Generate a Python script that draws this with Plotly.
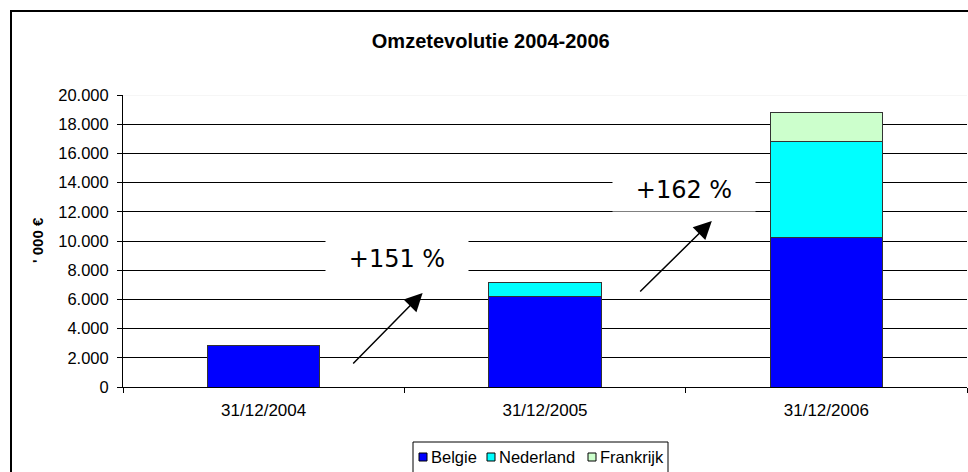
import plotly.graph_objects as go

categories = ["31/12/2004", "31/12/2005", "31/12/2006"]
belgie = [2870, 6190, 10250]
nederland = [0, 1000, 6560]
frankrijk = [0, 0, 1960]
growth_labels = ["+151 %", "+162 %"]

series = [
    ("Belgie", belgie, "#0000FF"),
    ("Nederland", nederland, "#00FFFF"),
    ("Frankrijk", frankrijk, "#CCFFCC"),
]

# plot-area geometry (pixels) used to place decorations in paper coords
L, R, T, B = 123, 967, 95, 387
def px(xp):
    return (xp - L) / (R - L)
def py(yp):
    return (B - yp) / (B - T)

fig = go.Figure()
for name, vals, col in series:
    fig.add_trace(go.Bar(
        x=categories, y=vals, name=name, showlegend=False,
        marker=dict(color=col, line=dict(color="#333333", width=1)),
    ))

font_fam = "Liberation Sans, Arial, sans-serif"

fig.update_layout(
    barmode="stack",
    bargap=0.6,
    width=968, height=472,
    margin=dict(l=L, r=968 - R, t=T, b=472 - B),
    paper_bgcolor="white",
    plot_bgcolor="white",
    font=dict(family=font_fam, size=15, color="black"),
    title=dict(text="<b>Omzetevolutie 2004-2006</b>", x=0.507, xref="container",
               y=1 - 41 / 472, yref="container", xanchor="center", yanchor="middle",
               font=dict(family=font_fam, size=20, color="black")),
    xaxis=dict(
        type="category", range=[-0.5, 2.5],
        showline=True, linecolor="black", linewidth=1,
        ticks="outside", tickson="boundaries", ticklen=5, tickcolor="black",
        showgrid=False, tickfont=dict(size=17), ticklabelstandoff=8,
    ),
    yaxis=dict(
        range=[0, 20000], tickvals=list(range(0, 20001, 2000)),
        ticktext=[f"{v:,}".replace(",", ".") for v in range(0, 20001, 2000)],
        showline=True, linecolor="black", linewidth=1,
        ticks="outside", ticklen=5, tickcolor="black",
        showgrid=True, gridcolor="black", gridwidth=1,
        zeroline=False, tickfont=dict(size=16.5), ticklabelstandoff=5,
    ),
    showlegend=False,
)

# faint top border of plot area
fig.add_shape(type="line", xref="paper", yref="y", x0=0, x1=1, y0=20000, y1=20000,
              line=dict(color="#eeeeee", width=1), layer="above")
# outer chart frame
fig.add_shape(type="rect", xref="paper", yref="paper",
              x0=px(11), x1=px(1100), y0=py(600), y1=py(11),
              line=dict(color="black", width=2), layer="above")

# legend (box, swatches, names)
fig.add_shape(type="rect", xref="paper", yref="paper",
              x0=px(413), x1=px(668), y0=py(520), y1=py(442),
              line=dict(color="black", width=1), fillcolor="white", layer="above")
swatch_x = [419, 487, 588]
for (name, _, col), sx in zip(series, swatch_x):
    fig.add_shape(type="rect", xref="paper", yref="paper",
                  x0=px(sx), x1=px(sx + 8), y0=py(461), y1=py(453),
                  line=dict(color="black", width=1), fillcolor=col, layer="above")
    fig.add_annotation(text=name, xref="paper", yref="paper", x=px(sx + 10), y=py(457),
                       xanchor="left", yanchor="middle", showarrow=False,
                       font=dict(family=font_fam, size=16.5, color="black"))

# y-axis title
fig.add_annotation(text="<b>' 000 €</b>", xref="paper", yref="paper",
                   x=px(37), y=py(240), xanchor="center", yanchor="middle",
                   textangle=-90, showarrow=False,
                   font=dict(family=font_fam, size=15, color="black"))

# growth labels with white boxes
fig.add_annotation(text=growth_labels[0], xref="x", yref="y", x=0.475, y=8800,
                   showarrow=False, bgcolor="white", width=140, height=60,
                   font=dict(family="DejaVu Sans, Verdana, sans-serif", size=24, color="black"))
fig.add_annotation(text=growth_labels[1], xref="x", yref="y", x=1.493, y=13500,
                   showarrow=False, bgcolor="white", width=140, height=40,
                   font=dict(family="DejaVu Sans, Verdana, sans-serif", size=24, color="black"))

# arrows
fig.add_annotation(x=0.565, y=6438, ax=0.313, ay=1507, xref="x", yref="y",
                   axref="x", ayref="y", text="", showarrow=True,
                   arrowhead=2, arrowsize=2.4, arrowwidth=1.5, arrowcolor="black")
fig.add_annotation(x=1.593, y=11370, ax=1.333, ay=6438, xref="x", yref="y",
                   axref="x", ayref="y", text="", showarrow=True,
                   arrowhead=2, arrowsize=2.4, arrowwidth=1.5, arrowcolor="black")

fig.write_html("out.html", config={"displayModeBar": False},
               post_script="document.body.style.margin='0';document.body.style.overflow='hidden';")
